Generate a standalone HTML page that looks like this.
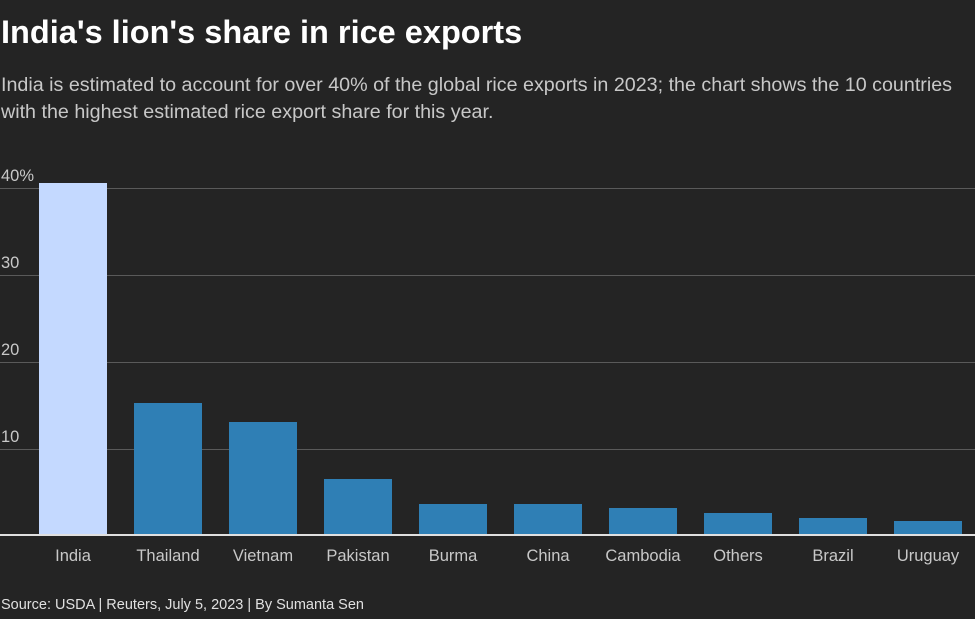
<!DOCTYPE html>
<html><head><meta charset="utf-8"><style>
body{margin:0;width:975px;height:619px;background:#242424;font-family:"Liberation Sans",sans-serif;color:#ddd;position:relative;overflow:hidden}
.a{position:absolute}
.g{position:absolute;left:0;width:975px;height:1px;background:#5a5a5a}
.b{position:absolute;width:68px;background:#2f7fb5}
.t{position:absolute;font-size:16.5px;color:#c8c8c8;top:547px;width:100px;text-align:center}
.y{position:absolute;left:1px;font-size:16.5px;color:#c8c8c8}
</style></head><body>
<div class="a" style="left:1px;top:14px;font-size:32.5px;font-weight:bold;color:#fff;white-space:nowrap">India's lion's share in rice exports</div>
<div class="a" style="left:1px;top:72px;font-size:19.7px;line-height:27px;color:#c8c8c8;white-space:nowrap">India is estimated to account for over 40% of the global rice exports in 2023; the chart shows the 10 countries<br>with the highest estimated rice export share for this year.</div>
<div class="g" style="top:188px"></div><div class="y" style="top:167px">40%</div>
<div class="g" style="top:275px"></div><div class="y" style="top:254px">30</div>
<div class="g" style="top:362px"></div><div class="y" style="top:341px">20</div>
<div class="g" style="top:449px"></div><div class="y" style="top:428px">10</div>
<div class="b" style="left:39px;top:183px;height:352px;background:#c4d9ff"></div>
<div class="b" style="left:134px;top:403px;height:132px"></div>
<div class="b" style="left:229px;top:422px;height:113px"></div>
<div class="b" style="left:324px;top:479px;height:56px"></div>
<div class="b" style="left:419px;top:504px;height:31px"></div>
<div class="b" style="left:514px;top:504px;height:31px"></div>
<div class="b" style="left:609px;top:508px;height:27px"></div>
<div class="b" style="left:704px;top:513px;height:22px"></div>
<div class="b" style="left:799px;top:518px;height:17px"></div>
<div class="b" style="left:894px;top:521px;height:14px"></div>
<div class="a" style="left:0;top:534px;width:975px;height:2px;background:#e0e0e0"></div>
<div class="t" style="left:23px">India</div>
<div class="t" style="left:118px">Thailand</div>
<div class="t" style="left:213px">Vietnam</div>
<div class="t" style="left:308px">Pakistan</div>
<div class="t" style="left:403px">Burma</div>
<div class="t" style="left:498px">China</div>
<div class="t" style="left:593px">Cambodia</div>
<div class="t" style="left:688px">Others</div>
<div class="t" style="left:783px">Brazil</div>
<div class="t" style="left:878px">Uruguay</div>
<div class="a" style="left:1px;top:597px;font-size:14.5px;color:#e0e0e0;white-space:nowrap">Source: USDA | Reuters, July 5, 2023 | By Sumanta Sen</div>
</body></html>
